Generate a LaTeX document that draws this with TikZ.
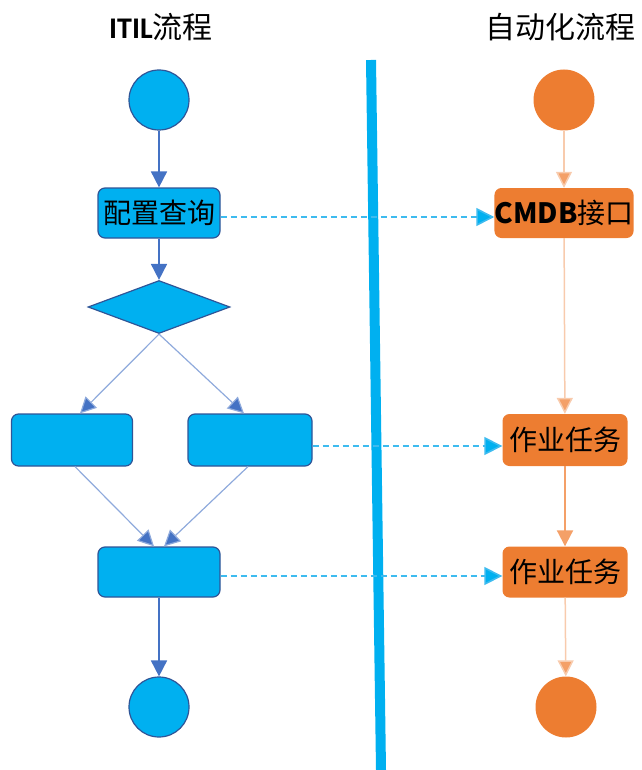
\documentclass[tikz,border=0pt]{standalone}
\usepackage{fontspec}
\setmainfont{Carlito}
\newfontfamily\cjk{Noto Sans CJK SC}
\usetikzlibrary{arrows.meta,shapes.geometric}
\definecolor{cyanf}{HTML}{00B0F0}
\definecolor{bedge}{HTML}{2F5597}
\definecolor{barr}{HTML}{4472C4}
\definecolor{bthinc}{HTML}{8FAADC}
\definecolor{orf}{HTML}{ED7D31}
\definecolor{orpale}{HTML}{F8CBAD}
\definecolor{ormid}{HTML}{F4A068}
\definecolor{dashc}{HTML}{3DBBEF}
\tikzset{
  bcirc/.style={circle,fill=cyanf,draw=bedge,line width=1.2pt,minimum size=60pt,inner sep=0pt},
  ocirc/.style={circle,fill=orf,minimum size=61pt,inner sep=0pt},
  bbox/.style={rectangle,rounded corners=7pt,fill=cyanf,draw=bedge,line width=1.2pt,inner sep=0pt,font=\fontsize{28}{30}\selectfont\cjk},
  obox/.style={rectangle,rounded corners=7pt,fill=orf,inner sep=0pt,font=\fontsize{28}{30}\selectfont\cjk},
  bdia/.style={diamond,fill=cyanf,draw=bedge,line width=1.2pt,inner sep=0pt,minimum width=142pt,minimum height=53pt},
  barrow/.style={draw=barr,line width=1.8pt,-{Triangle[length=16pt,width=16pt]}},
  bthin/.style={draw=bthinc,line width=1.2pt,-{Triangle[length=16pt,width=16pt,fill=barr]}},
  opale/.style={draw=orpale,line width=1.5pt,-{Triangle[length=16pt,width=16pt,fill=ormid]}},
  omid/.style={draw=ormid,line width=2pt,-{Triangle[length=16pt,width=16pt,fill=ormid]}},
  darrow/.style={draw=dashc,line width=1.6pt,dash pattern=on 6pt off 4pt,-{Triangle[length=18pt,width=18pt,fill=cyanf]}},
  ttl/.style={font=\fontsize{30}{32}\selectfont}
}
\begin{document}
\begin{tikzpicture}[x=1pt,y=-1pt]
\useasboundingbox (0,0) rectangle (641,770);
% titles
\node[ttl] (t1) at (161,27) {\textbf{ITIL}{\cjk 流程}};
\node[ttl] (t2) at (560,27) {\cjk 自动化流程};
% separator
\coordinate (vtop) at (371,60);
\coordinate (vbot) at (381,770);
\draw[cyanf,line width=10pt] (vtop) -- (vbot);
% left flow
\node[bcirc] (s1) at (159,100) {};
\node[bbox,minimum width=122pt,minimum height=50pt] (q) at (159,213) {配置查询};
\node[bdia] (d) at (159,307) {};
\node[bbox,minimum width=121pt,minimum height=52pt] (l) at (72,440) {};
\node[bbox,minimum width=124pt,minimum height=52pt] (r) at (250,440) {};
\node[bbox,minimum width=122pt,minimum height=50pt] (b) at (159,572) {};
\node[bcirc] (e1) at (159,707) {};
\draw[barrow] (s1) -- (q);
\draw[barrow] (q) -- (d);
\draw[bthin] (d.south) -- ([xshift=8pt]l.north);
\draw[bthin] (d.south) -- ([xshift=-6pt]r.north);
\draw[bthin] ([xshift=3pt]l.south) -- ([xshift=-5pt]b.north);
\draw[bthin] ([xshift=-2pt]r.south) -- ([xshift=5pt]b.north);
\draw[barrow] (b) -- (e1);
% right flow
\node[ocirc] (s2) at (564,100) {};
\node[obox,minimum width=122pt,minimum height=50pt] (c) at (564,213) {\textbf{CMDB}接口};
\node[obox,minimum width=125pt,minimum height=52pt] (k1) at (565,440) {作业任务};
\node[obox,minimum width=125pt,minimum height=51pt] (k2) at (565,572) {作业任务};
\node[ocirc] (e2) at (566,707) {};
\draw[opale] (s2) -- (c);
\draw[opale] (c) -- (k1);
\draw[omid] (k1) -- (k2);
\draw[opale] (k2) -- (e2);
% dashed links
\draw[darrow] ([yshift=-4pt]q.east) -- ([yshift=-4pt]c.west);
\draw[darrow] ([yshift=-6pt]r.east) -- ([yshift=-6pt]k1.west);
\draw[darrow] ([yshift=-4pt]b.east) -- ([yshift=-4pt]k2.west);
\end{tikzpicture}
\end{document}
